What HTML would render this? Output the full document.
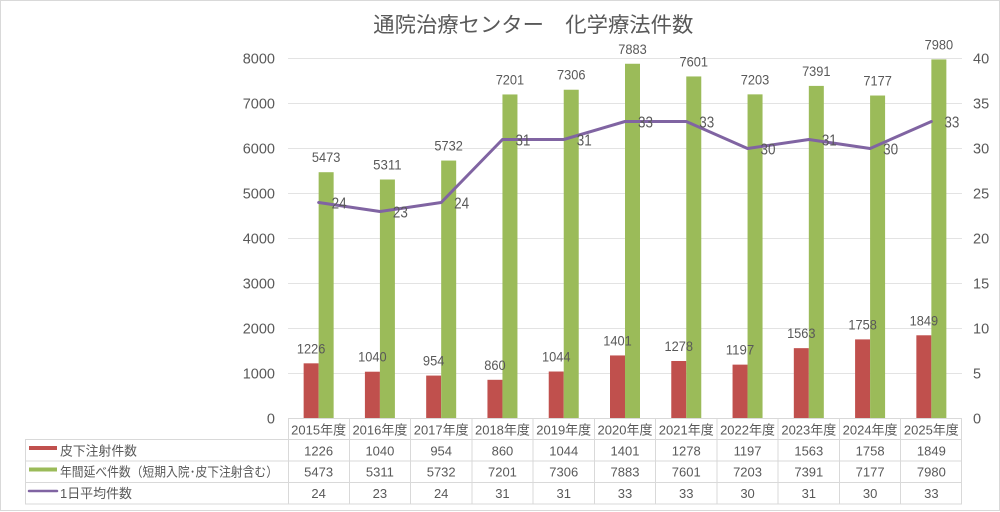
<!DOCTYPE html>
<html><head><meta charset="utf-8"><style>
html,body{margin:0;padding:0;background:#fff;}
svg{display:block;}
text{font-family:"Liberation Sans","Noto Sans CJK JP",sans-serif;fill:#595959;}
</style></head><body>
<svg width="1000" height="512" viewBox="0 0 1000 512" xmlns="http://www.w3.org/2000/svg">
<rect x="0.5" y="0.5" width="999" height="510" fill="#fff" stroke="#D9D9D9" stroke-width="1"/>
<text x="533.3" y="32" font-size="21" text-anchor="middle" textLength="320" lengthAdjust="spacingAndGlyphs">通院治療センター　化学療法件数</text>
<g stroke="#E3E3E3" stroke-width="1">
<line x1="288" y1="58.5" x2="962" y2="58.5"/>
<line x1="288" y1="103.5" x2="962" y2="103.5"/>
<line x1="288" y1="148.5" x2="962" y2="148.5"/>
<line x1="288" y1="193.5" x2="962" y2="193.5"/>
<line x1="288" y1="238.5" x2="962" y2="238.5"/>
<line x1="288" y1="283.5" x2="962" y2="283.5"/>
<line x1="288" y1="328.5" x2="962" y2="328.5"/>
<line x1="288" y1="373.5" x2="962" y2="373.5"/>
</g>
<g font-size="14.5" text-anchor="end">
<text x="275" y="63.5">8000</text>
<text x="275" y="108.5">7000</text>
<text x="275" y="153.5">6000</text>
<text x="275" y="198.5">5000</text>
<text x="275" y="243.5">4000</text>
<text x="275" y="288.5">3000</text>
<text x="275" y="333.5">2000</text>
<text x="275" y="378.5">1000</text>
<text x="275" y="423.5">0</text>
</g>
<g font-size="14.5" text-anchor="start">
<text x="973" y="63.5">40</text>
<text x="973" y="108.5">35</text>
<text x="973" y="153.5">30</text>
<text x="973" y="198.5">25</text>
<text x="973" y="243.5">20</text>
<text x="973" y="288.5">15</text>
<text x="973" y="333.5">10</text>
<text x="973" y="378.5">5</text>
<text x="973" y="423.5">0</text>
</g>
<g fill="#C0504D">
<rect x="303.64" y="363.33" width="15" height="55.17"/>
<rect x="364.91" y="371.7" width="15" height="46.8"/>
<rect x="426.18" y="375.57" width="15" height="42.93"/>
<rect x="487.45" y="379.8" width="15" height="38.7"/>
<rect x="548.73" y="371.52" width="15" height="46.98"/>
<rect x="610" y="355.45" width="15" height="63.05"/>
<rect x="671.27" y="360.99" width="15" height="57.51"/>
<rect x="732.55" y="364.63" width="15" height="53.87"/>
<rect x="793.82" y="348.16" width="15" height="70.34"/>
<rect x="855.09" y="339.39" width="15" height="79.11"/>
<rect x="916.36" y="335.29" width="15" height="83.21"/>
</g>
<g fill="#9BBB59">
<rect x="318.64" y="172.21" width="15" height="246.29"/>
<rect x="379.91" y="179.5" width="15" height="239"/>
<rect x="441.18" y="160.56" width="15" height="257.94"/>
<rect x="502.45" y="94.45" width="15" height="324.05"/>
<rect x="563.73" y="89.73" width="15" height="328.77"/>
<rect x="625" y="63.76" width="15" height="354.74"/>
<rect x="686.27" y="76.45" width="15" height="342.05"/>
<rect x="747.55" y="94.36" width="15" height="324.14"/>
<rect x="808.82" y="85.9" width="15" height="332.6"/>
<rect x="870.09" y="95.53" width="15" height="322.97"/>
<rect x="931.36" y="59.4" width="15" height="359.1"/>
</g>
<g font-size="14" text-anchor="middle" fill="#404040">
<text x="311.14" y="353.3" textLength="28.5" lengthAdjust="spacingAndGlyphs">1226</text>
<text x="372.41" y="361.7" textLength="28.5" lengthAdjust="spacingAndGlyphs">1040</text>
<text x="433.68" y="365.6" textLength="21.5" lengthAdjust="spacingAndGlyphs">954</text>
<text x="494.95" y="369.8" textLength="21.5" lengthAdjust="spacingAndGlyphs">860</text>
<text x="556.23" y="361.5" textLength="28.5" lengthAdjust="spacingAndGlyphs">1044</text>
<text x="617.5" y="345.4" textLength="28.5" lengthAdjust="spacingAndGlyphs">1401</text>
<text x="678.77" y="351" textLength="28.5" lengthAdjust="spacingAndGlyphs">1278</text>
<text x="740.05" y="354.6" textLength="28.5" lengthAdjust="spacingAndGlyphs">1197</text>
<text x="801.32" y="338.2" textLength="28.5" lengthAdjust="spacingAndGlyphs">1563</text>
<text x="862.59" y="329.4" textLength="28.5" lengthAdjust="spacingAndGlyphs">1758</text>
<text x="923.86" y="325.3" textLength="28.5" lengthAdjust="spacingAndGlyphs">1849</text>
<text x="326.14" y="162.2" textLength="28.5" lengthAdjust="spacingAndGlyphs">5473</text>
<text x="387.41" y="169.5" textLength="28.5" lengthAdjust="spacingAndGlyphs">5311</text>
<text x="448.68" y="150.6" textLength="28.5" lengthAdjust="spacingAndGlyphs">5732</text>
<text x="509.95" y="84.4" textLength="28.5" lengthAdjust="spacingAndGlyphs">7201</text>
<text x="571.23" y="79.7" textLength="28.5" lengthAdjust="spacingAndGlyphs">7306</text>
<text x="632.5" y="53.8" textLength="28.5" lengthAdjust="spacingAndGlyphs">7883</text>
<text x="693.77" y="66.4" textLength="28.5" lengthAdjust="spacingAndGlyphs">7601</text>
<text x="755.05" y="84.4" textLength="28.5" lengthAdjust="spacingAndGlyphs">7203</text>
<text x="816.32" y="75.9" textLength="28.5" lengthAdjust="spacingAndGlyphs">7391</text>
<text x="877.59" y="85.5" textLength="28.5" lengthAdjust="spacingAndGlyphs">7177</text>
<text x="938.86" y="49.4" textLength="28.5" lengthAdjust="spacingAndGlyphs">7980</text>
</g>
<polyline fill="none" stroke="#8064A2" stroke-width="3" stroke-linejoin="round" stroke-linecap="round"
 points="318.64,202.5 379.91,211.5 441.18,202.5 502.45,139.5 563.73,139.5 625,121.5 686.27,121.5 747.55,148.5 808.82,139.5 870.09,148.5 931.36,121.5"/>
<g font-size="15.5" fill="#404040">
<text x="331.64" y="208.3" textLength="15" lengthAdjust="spacingAndGlyphs">24</text>
<text x="392.91" y="217.3" textLength="15" lengthAdjust="spacingAndGlyphs">23</text>
<text x="454.18" y="208.3" textLength="15" lengthAdjust="spacingAndGlyphs">24</text>
<text x="515.45" y="145.3" textLength="15" lengthAdjust="spacingAndGlyphs">31</text>
<text x="576.73" y="145.3" textLength="15" lengthAdjust="spacingAndGlyphs">31</text>
<text x="638" y="127.3" textLength="15" lengthAdjust="spacingAndGlyphs">33</text>
<text x="699.27" y="127.3" textLength="15" lengthAdjust="spacingAndGlyphs">33</text>
<text x="760.55" y="154.3" textLength="15" lengthAdjust="spacingAndGlyphs">30</text>
<text x="821.82" y="145.3" textLength="15" lengthAdjust="spacingAndGlyphs">31</text>
<text x="883.09" y="154.3" textLength="15" lengthAdjust="spacingAndGlyphs">30</text>
<text x="944.36" y="127.3" textLength="15" lengthAdjust="spacingAndGlyphs">33</text>
</g>
<g stroke="#D9D9D9" stroke-width="1" fill="none">
<line x1="288" y1="418.5" x2="962" y2="418.5"/>
<line x1="25" y1="439.5" x2="962" y2="439.5"/>
<line x1="25" y1="461" x2="962" y2="461"/>
<line x1="25" y1="482.5" x2="962" y2="482.5"/>
<line x1="25" y1="504" x2="962" y2="504"/>
<line x1="25.5" y1="439.5" x2="25.5" y2="504"/>
<line x1="288.5" y1="418.5" x2="288.5" y2="504"/>
<line x1="349.5" y1="418.5" x2="349.5" y2="504"/>
<line x1="410.5" y1="418.5" x2="410.5" y2="504"/>
<line x1="472" y1="418.5" x2="472" y2="504"/>
<line x1="533" y1="418.5" x2="533" y2="504"/>
<line x1="594.5" y1="418.5" x2="594.5" y2="504"/>
<line x1="655.5" y1="418.5" x2="655.5" y2="504"/>
<line x1="717" y1="418.5" x2="717" y2="504"/>
<line x1="778" y1="418.5" x2="778" y2="504"/>
<line x1="839.5" y1="418.5" x2="839.5" y2="504"/>
<line x1="900.5" y1="418.5" x2="900.5" y2="504"/>
<line x1="961.5" y1="418.5" x2="961.5" y2="504"/>
</g>
<g font-size="13" text-anchor="middle">
<text x="318.64" y="434.5">2015年度</text>
<text x="379.91" y="434.5">2016年度</text>
<text x="441.18" y="434.5">2017年度</text>
<text x="502.45" y="434.5">2018年度</text>
<text x="563.73" y="434.5">2019年度</text>
<text x="625" y="434.5">2020年度</text>
<text x="686.27" y="434.5">2021年度</text>
<text x="747.55" y="434.5">2022年度</text>
<text x="808.82" y="434.5">2023年度</text>
<text x="870.09" y="434.5">2024年度</text>
<text x="931.36" y="434.5">2025年度</text>
<text x="318.64" y="455.3">1226</text>
<text x="379.91" y="455.3">1040</text>
<text x="441.18" y="455.3">954</text>
<text x="502.45" y="455.3">860</text>
<text x="563.73" y="455.3">1044</text>
<text x="625" y="455.3">1401</text>
<text x="686.27" y="455.3">1278</text>
<text x="747.55" y="455.3">1197</text>
<text x="808.82" y="455.3">1563</text>
<text x="870.09" y="455.3">1758</text>
<text x="931.36" y="455.3">1849</text>
<text x="318.64" y="476.5">5473</text>
<text x="379.91" y="476.5">5311</text>
<text x="441.18" y="476.5">5732</text>
<text x="502.45" y="476.5">7201</text>
<text x="563.73" y="476.5">7306</text>
<text x="625" y="476.5">7883</text>
<text x="686.27" y="476.5">7601</text>
<text x="747.55" y="476.5">7203</text>
<text x="808.82" y="476.5">7391</text>
<text x="870.09" y="476.5">7177</text>
<text x="931.36" y="476.5">7980</text>
<text x="318.64" y="498">24</text>
<text x="379.91" y="498">23</text>
<text x="441.18" y="498">24</text>
<text x="502.45" y="498">31</text>
<text x="563.73" y="498">31</text>
<text x="625" y="498">33</text>
<text x="686.27" y="498">33</text>
<text x="747.55" y="498">30</text>
<text x="808.82" y="498">31</text>
<text x="870.09" y="498">30</text>
<text x="931.36" y="498">33</text>
</g>
<rect x="29" y="446" width="28" height="4" fill="#C0504D"/>
<rect x="29" y="467.5" width="28" height="4" fill="#9BBB59"/>
<line x1="29" y1="491" x2="57" y2="491" stroke="#8064A2" stroke-width="2.5" stroke-linecap="round"/>
<g font-size="13">
<text x="60" y="455.3" textLength="77" lengthAdjust="spacingAndGlyphs">皮下注射件数</text>
<text x="60" y="476.5" textLength="218" lengthAdjust="spacingAndGlyphs">年間延べ件数（短期入院･皮下注射含む）</text>
<text x="60" y="498" textLength="72" lengthAdjust="spacingAndGlyphs">1日平均件数</text>
</g>
</svg>
</body></html>
